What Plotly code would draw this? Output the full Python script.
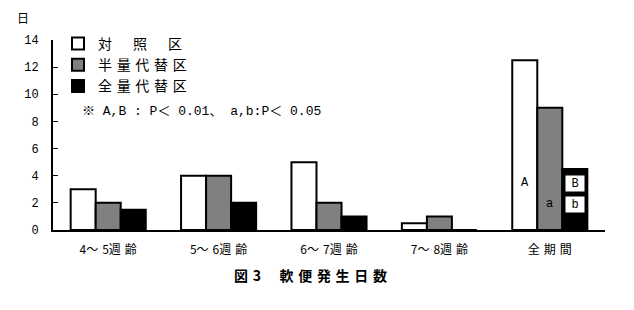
import plotly.graph_objects as go

S = "\u2004"  # thin spacing used between characters
categories = ["4～" + S + "5週" + S + "齢", "5～" + S + "6週" + S + "齢", "6～" + S + "7週" + S + "齢",
              "7～" + S + "8週" + S + "齢", "全" + S + "期" + S + "間"]
control = [3.0, 4.0, 5.0, 0.5, 12.5]
half_sub = [2.0, 4.0, 2.0, 1.0, 9.0]
full_sub = [1.5, 2.0, 1.0, 0.0, 4.5]
series_names = ["対\u3000\u2002照\u3000\u2002区", S.join("半量代替区"), S.join("全量代替区")]
series_colors = ["#ffffff", "#808080", "#000000"]
y_ticks = [0, 2, 4, 6, 8, 10, 12, 14]

FONT = "Noto Sans CJK JP"
MONO = "Liberation Mono, Noto Sans CJK JP"

W, H = 634, 310
L, R, T, B = 53, 29, 40, 80
pw, ph = W - L - R, H - T - B
def px(x):
    return (x - L) / pw
def py(y):
    return (H - B - y) / ph

fig = go.Figure()
for name, vals, col in zip(series_names, [control, half_sub, full_sub], series_colors):
    fig.add_trace(go.Bar(
        x=categories, y=vals, name=name,
        marker=dict(color=col, line=dict(color="#000000", width=2)),
    ))

# significance letters
marks = [
    dict(text="A", shift=-25, y=3.45, box=False),
    dict(text="a", shift=0, y=1.9, box=False),
    dict(text="B", shift=25, y=3.45, box=True),
    dict(text="b", shift=25, y=1.9, box=True),
]
for m in marks:
    fig.add_annotation(
        x=categories[4], y=m["y"], xref="x", yref="y", xshift=m["shift"],
        text=m["text"], showarrow=False,
        font=dict(family=MONO, size=12, color="#000000"),
        bgcolor="#ffffff" if m["box"] else "rgba(0,0,0,0)",
        width=16 if m["box"] else None, height=13 if m["box"] else None,
        borderpad=1,
    )

fig.add_annotation(
    x=px(80), y=py(112), xref="paper", yref="paper",
    text="※ A,B : P＜ 0.01、 a,b:P＜ 0.05",
    showarrow=False, xanchor="left", yanchor="middle",
    font=dict(family=MONO, size=13, color="#000000"),
)
fig.add_annotation(
    x=px(23), y=py(17), xref="paper", yref="paper", text="日", showarrow=False,
    xanchor="center", yanchor="middle",
    font=dict(family=FONT, size=12, color="#000000"),
)
fig.add_annotation(
    x=px(310), y=py(275), xref="paper", yref="paper",
    text="<b>図" + S + "3\u3000" + S + S.join("軟便発生日数") + "</b>",
    showarrow=False, xanchor="center", yanchor="middle",
    font=dict(family=FONT, size=14, color="#000000"),
)

fig.update_layout(
    width=W, height=H,
    margin=dict(l=L, r=R, t=T, b=B),
    paper_bgcolor="#ffffff", plot_bgcolor="#ffffff",
    barmode="group", bargap=0.32, bargroupgap=0,
    font=dict(family=FONT, color="#000000"),
    showlegend=True,
    legend=dict(
        x=px(58), y=py(28), xanchor="left", yanchor="top",
        bgcolor="rgba(0,0,0,0)", font=dict(family=FONT, size=14),
        itemwidth=30, tracegroupgap=0,
    ),
    xaxis=dict(
        showline=True, linecolor="#000000", linewidth=2,
        ticks="", showgrid=False, tickfont=dict(family=FONT, size=12),
        ticklabelstandoff=8,
    ),
    yaxis=dict(
        range=[0, 14], tickvals=y_ticks, showline=True, linecolor="#000000",
        linewidth=2, ticks="inside", ticklen=5, tickwidth=1, tickcolor="#000000",
        showgrid=False, zeroline=False, tickfont=dict(family=MONO, size=12),
        ticklabelstandoff=10,
    ),
)

fig.write_html("out.html")
